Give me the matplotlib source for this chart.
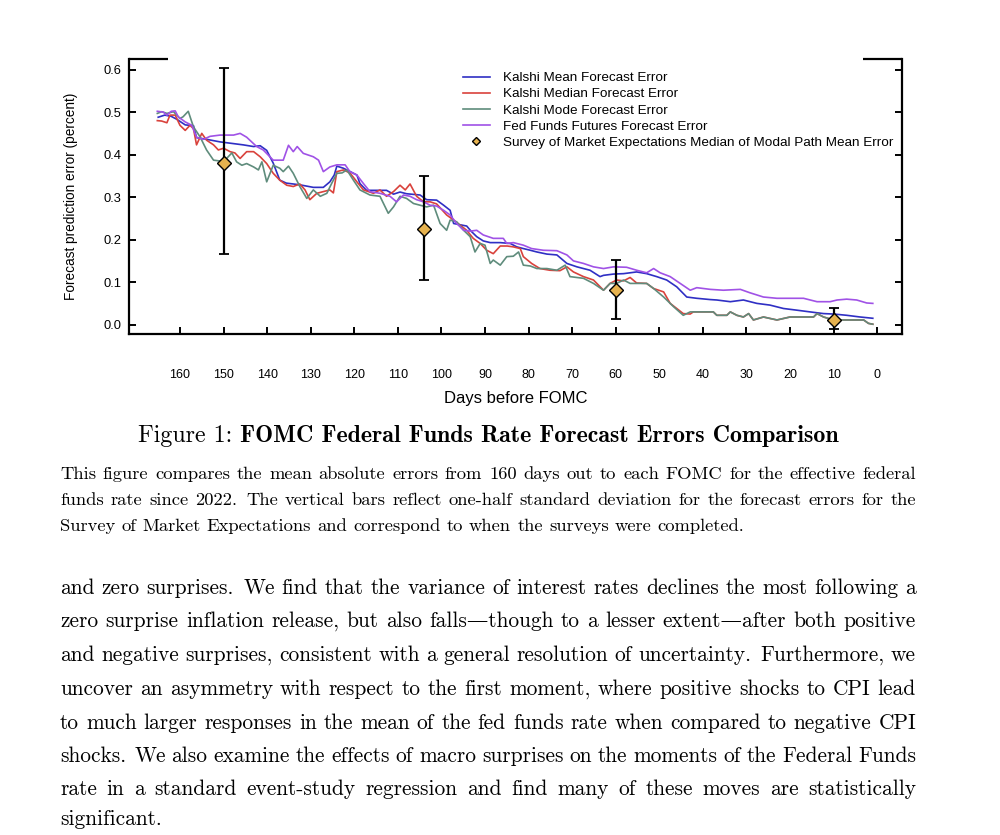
import matplotlib
matplotlib.use('Agg')
import matplotlib.pyplot as plt

plt.rcParams['font.family'] = ['Liberation Sans', 'DejaVu Sans']

# ---------------- data ----------------
mean_days = [165, 163.5, 162, 160.7, 158.8, 156.9, 156.2, 153.9, 150.8, 149.3,
             145.5, 143.1, 141.6, 140.1, 138.6, 137.1, 135.6, 132.5, 129.4, 127.1,
             125.6, 124.6, 124.0, 122.5, 121.7, 119.4, 118.7, 117.2, 112.6, 111.0,
             109.5, 108.0, 104.9, 103.4, 101.1, 99.5, 98.0, 97.2, 94.2, 93.2,
             91.9, 90.4, 88.8, 86.5, 84.2, 82.7, 81.2, 79.6, 78.1, 75.8,
             73.5, 71.2, 68.9, 65.9, 63.6, 62.8, 60.5, 58.2, 55.2, 52.9,
             50.6, 48.3, 46.0, 43.7, 41.4, 38.3, 36.8, 33.7, 30.7, 27.6,
             24.6, 21.5, 18.4, 15.4, 12.3, 10.0, 7.0, 3.9, 1.0]
mean_err = [0.488, 0.493, 0.490, 0.483, 0.470, 0.468, 0.440, 0.436, 0.430, 0.428,
            0.423, 0.419, 0.421, 0.410, 0.380, 0.340, 0.333, 0.329, 0.323, 0.323,
            0.336, 0.352, 0.373, 0.368, 0.364, 0.352, 0.332, 0.316, 0.316, 0.307,
            0.312, 0.308, 0.305, 0.294, 0.293, 0.281, 0.269, 0.238, 0.232, 0.220,
            0.207, 0.197, 0.193, 0.193, 0.191, 0.183, 0.179, 0.175, 0.171, 0.166,
            0.164, 0.144, 0.136, 0.128, 0.113, 0.116, 0.119, 0.120, 0.124, 0.120,
            0.113, 0.105, 0.089, 0.065, 0.062, 0.059, 0.058, 0.054, 0.058, 0.050,
            0.046, 0.038, 0.034, 0.030, 0.026, 0.025, 0.022, 0.018, 0.015]

median_days = [165.2, 164.2, 163.0, 162.3, 161.1, 160.0, 158.8, 157.7, 156.9, 156.2,
               155.0, 153.9, 152.3, 151.2, 150.0, 148.5, 147.4, 146.2, 144.7, 143.1,
               141.6, 140.1, 138.6, 137.1, 135.5, 134.0, 132.5, 131.3, 130.2, 128.6,
               127.1, 125.6, 124.8, 124.0, 122.5, 121.0, 119.4, 117.9, 115.6, 114.1,
               112.6, 111.0, 109.5, 108.3, 107.2, 105.7, 104.1, 102.6, 101.1, 98.8,
               97.2, 95.7, 94.2, 92.7, 91.1, 89.6, 88.1, 86.5, 84.9, 83.5,
               81.9, 81.2, 79.3, 77.4, 75.1, 72.8, 71.2, 69.7, 67.4, 65.1,
               62.8, 61.3, 59.8, 58.2, 56.7, 55.2, 52.9, 51.3, 49.0, 47.5,
               46.0, 44.5, 42.9, 42.2, 39.9, 37.6, 36.8, 34.5, 33.7, 32.2,
               30.7, 29.5, 28.4, 26.1, 23.0, 20.0, 16.9, 14.6, 13.8, 12.3,
               10.0, 7.0, 3.1, 2.0, 1.0]
median_err = [0.480, 0.479, 0.475, 0.493, 0.493, 0.469, 0.457, 0.469, 0.461, 0.423,
              0.450, 0.434, 0.423, 0.411, 0.415, 0.407, 0.404, 0.391, 0.407, 0.407,
              0.395, 0.379, 0.356, 0.340, 0.328, 0.325, 0.331, 0.317, 0.294, 0.309,
              0.313, 0.317, 0.310, 0.360, 0.364, 0.357, 0.336, 0.317, 0.309, 0.317,
              0.302, 0.313, 0.328, 0.317, 0.331, 0.302, 0.289, 0.289, 0.284, 0.258,
              0.246, 0.234, 0.222, 0.203, 0.191, 0.175, 0.167, 0.185, 0.185, 0.183,
              0.179, 0.160, 0.144, 0.132, 0.128, 0.127, 0.136, 0.124, 0.113, 0.105,
              0.081, 0.097, 0.105, 0.103, 0.111, 0.098, 0.097, 0.085, 0.077, 0.050,
              0.038, 0.026, 0.025, 0.030, 0.030, 0.030, 0.022, 0.022, 0.030, 0.022,
              0.018, 0.026, 0.011, 0.018, 0.011, 0.018, 0.018, 0.018, 0.026, 0.018,
              0.011, 0.011, 0.011, 0.003, 0.001]

mode_days = [165.2, 164.2, 163.0, 161.5, 160.0, 159.3, 158.1, 156.9, 155.4, 153.9,
             152.3, 150.8, 149.3, 148.1, 147.0, 145.8, 144.7, 143.1, 142.0, 141.2,
             140.1, 138.6, 137.1, 136.3, 135.1, 134.0, 132.5, 130.9, 129.4, 127.8,
             126.3, 125.2, 124.0, 122.8, 121.7, 120.2, 118.7, 116.4, 114.1, 112.2,
             111.0, 109.5, 108.0, 106.4, 104.9, 103.4, 101.8, 100.3, 98.8, 98.0,
             96.5, 94.9, 93.4, 92.3, 91.1, 90.0, 88.8, 88.1, 86.5, 85.0,
             83.5, 82.3, 81.2, 79.6, 78.1, 75.8, 73.5, 71.6, 70.5, 67.4,
             65.1, 62.8, 61.3, 59.8, 58.2, 56.7, 52.9, 51.3, 49.0, 46.7,
             44.5, 42.9, 39.9, 37.6, 36.8, 34.5, 33.7, 32.2, 30.7, 29.5,
             28.4, 26.1, 23.0, 20.0, 16.9, 14.6, 13.8, 12.3, 10.0, 7.0,
             3.1, 2.0, 1.0]
mode_err = [0.497, 0.501, 0.497, 0.501, 0.485, 0.489, 0.502, 0.465, 0.442, 0.411,
            0.387, 0.385, 0.391, 0.404, 0.383, 0.375, 0.379, 0.371, 0.364, 0.383,
            0.336, 0.375, 0.368, 0.360, 0.373, 0.356, 0.325, 0.297, 0.317, 0.302,
            0.309, 0.332, 0.356, 0.357, 0.364, 0.340, 0.317, 0.305, 0.302, 0.262,
            0.277, 0.302, 0.297, 0.285, 0.281, 0.277, 0.281, 0.238, 0.222, 0.246,
            0.242, 0.222, 0.207, 0.171, 0.191, 0.187, 0.144, 0.152, 0.140, 0.160,
            0.161, 0.171, 0.140, 0.138, 0.132, 0.132, 0.128, 0.140, 0.113, 0.109,
            0.097, 0.081, 0.097, 0.097, 0.105, 0.097, 0.097, 0.085, 0.065, 0.042,
            0.022, 0.030, 0.030, 0.030, 0.022, 0.022, 0.030, 0.022, 0.018, 0.026,
            0.011, 0.018, 0.011, 0.018, 0.018, 0.018, 0.026, 0.018, 0.011, 0.011,
            0.011, 0.003, 0.001]

ff_days = [165.2, 163.8, 163.0, 162.0, 161.1, 160.4, 158.8, 157.3, 156.2, 154.6,
           153.1, 150.8, 147.7, 146.2, 144.7, 142.4, 140.9, 138.6, 136.3, 135.1,
           134.0, 133.1, 131.7, 129.4, 128.2, 127.1, 125.6, 124.0, 122.1, 121.0,
           119.4, 117.9, 116.4, 114.1, 111.8, 110.3, 108.7, 107.2, 105.7, 104.1,
           102.6, 101.1, 99.5, 98.0, 96.5, 94.9, 93.4, 91.9, 90.4, 88.1,
           85.8, 85.0, 83.5, 81.2, 79.3, 76.6, 73.5, 71.2, 69.7, 67.4,
           65.1, 62.8, 60.5, 57.5, 55.2, 52.9, 51.3, 49.8, 47.5, 45.2,
           42.9, 41.4, 38.3, 35.3, 31.4, 29.2, 26.1, 23.0, 20.0, 16.9,
           13.8, 10.8, 9.2, 7.0, 4.7, 2.4, 1.0]
ff_err = [0.502, 0.500, 0.493, 0.502, 0.503, 0.489, 0.477, 0.469, 0.441, 0.436,
          0.443, 0.446, 0.446, 0.450, 0.441, 0.419, 0.411, 0.387, 0.387, 0.422,
          0.407, 0.419, 0.403, 0.395, 0.387, 0.360, 0.371, 0.376, 0.376, 0.360,
          0.352, 0.332, 0.313, 0.309, 0.302, 0.289, 0.305, 0.302, 0.294, 0.289,
          0.281, 0.279, 0.269, 0.258, 0.238, 0.222, 0.220, 0.222, 0.211, 0.203,
          0.203, 0.191, 0.193, 0.187, 0.179, 0.175, 0.174, 0.164, 0.150, 0.144,
          0.136, 0.132, 0.136, 0.135, 0.128, 0.122, 0.132, 0.122, 0.113, 0.097,
          0.081, 0.087, 0.083, 0.081, 0.083, 0.075, 0.065, 0.062, 0.062, 0.062,
          0.054, 0.054, 0.058, 0.060, 0.058, 0.051, 0.050]

survey_days = [150, 104, 60, 10]
survey_err = [0.381, 0.224, 0.081, 0.011]
survey_low = [0.166, 0.105, 0.014, -0.011]
survey_high = [0.605, 0.350, 0.153, 0.040]

x_ticks = [160, 150, 140, 130, 120, 110, 100, 90, 80, 70, 60, 50, 40, 30, 20, 10, 0]
y_ticks = [0.0, 0.1, 0.2, 0.3, 0.4, 0.5, 0.6]

labels = ["Kalshi Mean Forecast Error", "Kalshi Median Forecast Error",
          "Kalshi Mode Forecast Error", "Fed Funds Futures Forecast Error",
          "Survey of Market Expectations Median of Modal Path Mean Error"]

caption_title_regular = "Figure 1:"
caption_title_bold = "FOMC Federal Funds Rate Forecast Errors Comparison"
caption_lines = [
    "This figure compares the mean absolute errors from 160 days out to each FOMC for the effective federal",
    "funds rate since 2022. The vertical bars reflect one-half standard deviation for the forecast errors for the",
    "Survey of Market Expectations and correspond to when the surveys were completed.",
]
body_lines = [
    "and zero surprises. We find that the variance of interest rates declines the most following a",
    "zero surprise inflation release, but also falls\u2014though to a lesser extent\u2014after both positive",
    "and negative surprises, consistent with a general resolution of uncertainty. Furthermore, we",
    "uncover an asymmetry with respect to the first moment, where positive shocks to CPI lead",
    "to much larger responses in the mean of the fed funds rate when compared to negative CPI",
    "shocks. We also examine the effects of macro surprises on the moments of the Federal Funds",
    "rate in a standard event-study regression and find many of these moves are statistically",
    "significant.",
]

# ---------------- figure ----------------
W, H = 1000, 835
fig = plt.figure(figsize=(W / 100, H / 100), dpi=100)
fig.patch.set_facecolor('white')

L, R, T, B = 129, 902, 59, 334
ax = fig.add_axes([L / W, 1 - B / H, (R - L) / W, (B - T) / H])

c_mean = '#2f2fc4'
c_med = '#d9423c'
c_mode = '#5f8c7c'
c_ff = '#a052e6'

ax.plot(mean_days, mean_err, color=c_mean, lw=1.2, label=labels[0])
ax.plot(median_days, median_err, color=c_med, lw=1.2, label=labels[1])
ax.plot(mode_days, mode_err, color=c_mode, lw=1.2, label=labels[2])
ax.plot(ff_days, ff_err, color=c_ff, lw=1.2, label=labels[3])

yerr = [[v - lo for v, lo in zip(survey_err, survey_low)],
        [hi - v for v, hi in zip(survey_err, survey_high)]]
ax.errorbar(survey_days, survey_err, yerr=yerr, fmt='none', ecolor='black',
            elinewidth=1.6, capsize=3.5, capthick=1.3, zorder=5)
ax.plot(survey_days, survey_err, linestyle='none', marker='D', markersize=7,
        markerfacecolor='#e6b24e', markeredgecolor='black', markeredgewidth=1.0,
        zorder=6, label=labels[4])

ax.set_xlim(171.7, -5.7)
ax.set_ylim(-0.022, 0.625)
ax.set_xticks(x_ticks)
ax.set_xticklabels([str(t) for t in x_ticks])
ax.set_yticks(y_ticks)
ax.set_yticklabels([f"{t:.1f}" for t in y_ticks])

ax.tick_params(axis='x', direction='in', length=5, width=1.4, labelsize=9,
               pad=25, top=False, colors='black')
ax.tick_params(axis='y', direction='in', length=5, width=1.4, labelsize=9.3,
               pad=5.3, right=True, labelright=False, colors='black')
for s in ['left', 'bottom', 'right']:
    ax.spines[s].set_linewidth(1.6)
ax.spines['top'].set_visible(False)
# short top corner segments of the frame
ax.plot([0, 0.0505], [1, 1], color='black', lw=1.6, transform=ax.transAxes,
        clip_on=False, solid_capstyle='butt')
ax.plot([0.949, 1.0], [1, 1], color='black', lw=1.6, transform=ax.transAxes,
        clip_on=False, solid_capstyle='butt')

ax.set_xlabel("Days before FOMC", fontsize=12)
ax.xaxis.set_label_coords(0.5, -0.208)
ax.set_ylabel("Forecast prediction error (percent)", fontsize=9.8)
ax.yaxis.set_label_coords(-0.066, 0.5)

leg = ax.legend(loc='upper left', bbox_to_anchor=((463 - L) / (R - L), (B - 72) / (B - T)),
                frameon=False, fontsize=9.7, borderpad=0, borderaxespad=0,
                handlelength=2.0, handletextpad=0.95, labelspacing=0.27,
                markerscale=0.6)

# ---------------- text below ----------------
renderer = fig.canvas.get_renderer()
SERIF = ['cmr10', 'DejaVu Serif']
SERIF_B = ['cmb10', 'DejaVu Serif']


def text_width(s, size, family):
    t = fig.text(0, 0, s, fontsize=size, family=family)
    w = t.get_window_extent(renderer=renderer).width
    t.remove()
    return w


def space_width(size, family):
    return text_width("x x", size, family) - text_width("xx", size, family)


def gap_weights(words):
    return [1.35 if w[-1] in '.:' else 1.0 for w in words[:-1]]


def natural(line, size, family):
    words = line.split()
    sw = space_width(size, family)
    return sum(text_width(w, size, family) for w in words) + sw * sum(gap_weights(words))


def set_lines(lines, x0, x1, baselines, size, family, justify_last=False):
    sw = space_width(size, family)
    for i, (line, yb) in enumerate(zip(lines, baselines)):
        words = line.split()
        ws = [text_width(w, size, family) for w in words]
        gw = gap_weights(words)
        last = (i == len(lines) - 1) and not justify_last
        unit = sw if last or len(words) < 2 else ((x1 - x0) - sum(ws)) / sum(gw)
        x = x0
        for j, w in enumerate(words):
            fig.text(x / W, 1 - yb / H, w, fontsize=size, family=family,
                     ha='left', va='baseline', color='black')
            if j < len(gw):
                x += ws[j] + unit * gw[j]


# title: fit to measured width
ref = 10.0
tw = (text_width(caption_title_regular, ref, SERIF) + space_width(ref, SERIF)
      + text_width(caption_title_bold, ref, SERIF_B))
ts = ref * 698 / tw
w_reg = text_width(caption_title_regular, ts, SERIF)
w_sp = space_width(ts, SERIF)
w_b = text_width(caption_title_bold, ts, SERIF_B)
x_start = 488 - (w_reg + w_sp + w_b) / 2
fig.text(x_start / W, 1 - 442 / H, caption_title_regular, fontsize=ts, family=SERIF,
         ha='left', va='baseline')
fig.text((x_start + w_reg + w_sp) / W, 1 - 442 / H, caption_title_bold, fontsize=ts,
         family=SERIF_B, ha='left', va='baseline')

# caption paragraph
targets = [856, 856, 675]
nat = [natural(l, ref, SERIF) for l in caption_lines]
cs = ref * sum(targets) / sum(nat)
set_lines(caption_lines, 60, 916, [479, 505, 531], cs, SERIF)

# body paragraph
nat_b = [natural(l, ref, SERIF) for l in body_lines[:-1]]
bs = ref * 856 * len(nat_b) / sum(nat_b)
set_lines(body_lines, 60, 916, [594, 627, 661, 695, 729, 762, 795, 825], bs, SERIF)

fig.savefig('out.png', dpi=100, facecolor='white')
